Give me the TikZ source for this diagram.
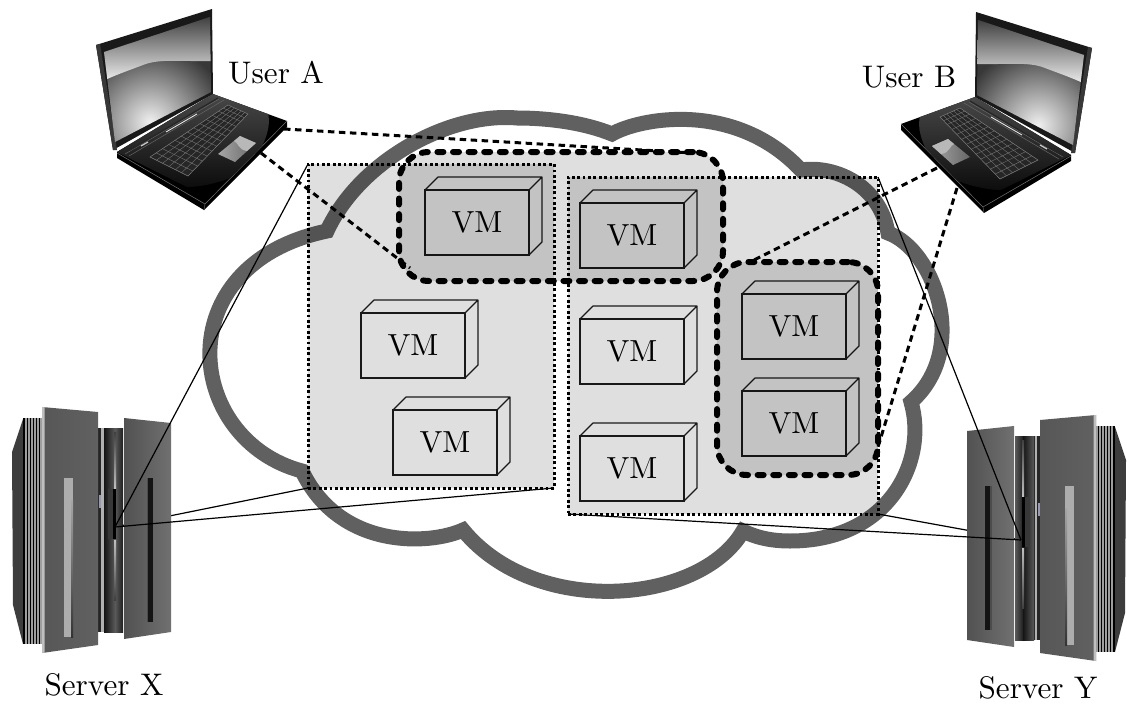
\documentclass[tikz,border=0pt]{standalone}
\usetikzlibrary{calc}
\definecolor{cloudc}{gray}{0.376}
\newcommand{\bigtext}[1]{\scalebox{3.12}{#1}}
\tikzset{
  lbl/.style={inner sep=0pt,anchor=base},
  vmbody/.style={draw=black!90,line width=1.2pt,minimum width=104pt,minimum height=65pt,inner sep=0pt,outer sep=0pt},
  vmedge/.style={draw=black!90,line width=1.2pt,line join=round},
  hostarea/.style={draw=black,fill=black,fill opacity=.125,draw opacity=1,line width=3pt,dash pattern=on 2.8pt off 2.6pt,inner sep=0pt,outer sep=0pt},
  tenant/.style={draw=black,fill=black,fill opacity=.125,draw opacity=1,line width=6pt,line cap=round,dash pattern=on 6pt off 9.6pt,rounded corners=30pt,inner sep=0pt,outer sep=0pt},
  link/.style={draw=black,line width=1.2pt},
  access/.style={draw=black,line width=3pt,dash pattern=on 6.5pt off 4.5pt},
  cloudline/.style={draw=cloudc,line width=15pt,line join=miter,miter limit=10}
}
\newcommand{\vmcube}[3]{%
  \node[vmbody] (#1) at ({#2+52},{#3+32.5}) {\scalebox{3.05}{VM}};
  \draw[vmedge] (#1.north west) -- ++(13,-13) -- ++(104,0) -- ++(0,65) -- (#1.south east)
     (#1.north east) -- ++(13,-13);
}
\newcommand{\laptopart}{%
  % lid
  \fill[black!90] (96,45) -- (212,9) -- (213,94) -- (113,150) -- cycle;
  \fill[black!78] (96,45) -- (100,44) -- (117,150) -- (113,150) -- cycle;
  \begin{scope}
    \clip (104,52) -- (210,17) -- (211,92) -- (115,142) -- cycle;
    \fill[black!78] (90,10) rectangle (220,150);
    \shade[inner color=black!6,outer color=black!78] (150,122) circle (78pt);
    \path[shade,top color=black!82,bottom color=black!8]
      (100,10) -- (215,10) -- (215,61) .. controls (185,62) and (160,58) .. (143,65)
      .. controls (130,70) and (118,74) .. (105,80) -- cycle;
  \end{scope}
  % base
  \fill[black] (117,152) -- (213,94) -- (287,121) -- (287,127) -- (204,210) -- (117,158) -- cycle;
  \draw[black!55,line width=.5pt] (117,153) -- (205,204) -- (287,121);
  \draw[black!65,line width=.5pt] (205,204) -- (204,210);
  \begin{scope}
    \clip (117,152) -- (213,94) -- (287,121) -- (205,203) -- cycle;
    \path[shade,top color=black!72,bottom color=black!95]
      (117,152) -- (213,94) -- (268,113) .. controls (272,130) and (262,150) .. (247,170)
      .. controls (230,180) and (205,187) .. (187,187) -- cycle;
  \end{scope}
  % hinge strip
  \draw[black!60,line width=.5pt] (125,154) -- (219,99) (129,156) -- (224,100);
  \draw[black!85,line width=1.2pt] (130,150) -- (218,98);
  \draw[white!90!black,line width=.9pt] (166,132) -- (197,114);
  \draw[white!80!black,line width=1.2pt] (141,146) -- (148,142);
  % keyboard
  \coordinate (kp) at (150,157); \coordinate (kq) at (228,105);
  \coordinate (kr) at (248,114); \coordinate (ks) at (188,176);
  \fill[black!85] (kp) -- (kq) -- (kr) -- (ks) -- cycle;
  \draw[black!50,line width=.5pt] (kp) -- (kq) -- (kr) -- (ks) -- cycle;
  \foreach \t in {.17,.33,.5,.67,.83}
    \draw[black!55,line width=.4pt] ($(kp)!\t!(ks)$) -- ($(kq)!\t!(kr)$);
  \foreach \t in {.08,.16,.24,.32,.4,.48,.56,.64,.72,.8,.88,.94}
    \draw[black!55,line width=.4pt] ($(kp)!\t!(kq)$) -- ($(ks)!\t!(kr)$);
  % touch pad
  \path[shade,left color=black!35,right color=black!60]
    (218,154) -- (240,136) -- (256,143) -- (235,162) -- cycle;
  \fill[black!28] (240,136) -- (256,143) -- (247,151) .. controls (238,150) and (238,142) .. (234,141) -- cycle;
}
\newcommand{\serverart}{%
  % rear fins
  \fill[black!76] (23,419) -- (12,452) -- (13,605) -- (23,644) -- cycle;
  \fill[black] (23,418) rectangle (42,644);
  \foreach \x in {25,28,31,34,37,40}
    \fill[black!38] (\x,418) rectangle ++(1.6,226);
  % centre column
  \fill[black!85] (98,428) rectangle (123,632);
  \shade[left color=black!92,right color=black!65] (104,428) rectangle (115,632);
  \shade[left color=black!65,right color=black!88] (115,428) rectangle (123,632);
  \fill[black!30] (101,428) rectangle (103.5,632);
  \shade[top color=black!75,bottom color=black!25] (114,432) rectangle (116,488);
  \shade[top color=black!25,bottom color=black!75] (114,540) rectangle (116,600);
  \fill[black!78] (108,489) rectangle (113,539);
  \fill[black] (113,489) rectangle (116,539);
  \fill[blue!25!black!40] (98.5,495) rectangle (100.5,508);
  % large panel
  \shade[left color=black!66,middle color=black!46,right color=black!62] (42,407) -- (98,412) -- (98,645) -- (42,653) -- cycle;
  \fill[black!25] (42,407) -- (44.5,407.2) -- (44.5,652.6) -- (42,653) -- cycle;
  \fill[black!32] (64,478) rectangle (73,637);
  \shade[top color=black!35,bottom color=black!80] (71,500) rectangle (73,637);
  % small panel
  \shade[left color=black!68,middle color=black!48,right color=black!56] (124,418) -- (171,423) -- (171,632) -- (124,639) -- cycle;
  \fill[black!70] (146.5,478) rectangle (153,622);
  \fill[black!92] (148,478) rectangle (153,622);
}
\begin{document}
\begin{tikzpicture}[x=1pt,y=-1pt]
\useasboundingbox (0,0) rectangle (1127,704);
% cloud
\draw[cloudline]
  (327,231) .. controls (360,160) and (450,112) .. (517,118)
  .. controls (550,118) and (585,123) .. (612,134)
  .. controls (640,118) and (735,100) .. (801,170)
  .. controls (835,165) and (880,185) .. (888,233)
  .. controls (935,250) and (970,350) .. (911,402)
  .. controls (928,460) and (890,541) .. (790,541)
  .. controls (770,541) and (755,537) .. (743,531)
  .. controls (700,605) and (535,618) .. (463,530)
  .. controls (430,545) and (340,550) .. (302,471)
  .. controls (185,440) and (165,265) .. (327,231)
  -- cycle;
% areas and anchors
\node[hostarea,minimum width=246pt,minimum height=324pt] (hostx) at (431,326) {};
\node[hostarea,minimum width=310pt,minimum height=337pt] (hosty) at (723,345.5) {};
\coordinate (tipx) at (115,527);
\coordinate (tipy) at (1021,540);
% links hidden behind the servers
\draw[link] (tipx) -- (hostx.south west);
\draw[link] (tipy) -- (hosty.south east);
% servers
\begin{scope}\serverart\end{scope}
\begin{scope}[shift={(1138,8)},xscale=-1]\serverart\end{scope}
% laptops
\begin{scope}\laptopart\end{scope}
\begin{scope}[shift={(1188,3)},xscale=-1]\laptopart\end{scope}
% VMs
\vmcube{vma}{425}{190}
\vmcube{vmb}{580}{203}
\vmcube{vmc}{361}{313}
\vmcube{vmd}{393}{410}
\vmcube{vme}{580}{319}
\vmcube{vmf}{580}{436}
\vmcube{vmg}{742}{294}
\vmcube{vmh}{742}{391}
% tenants
\node[tenant,minimum width=324pt,minimum height=129pt] (groupa) at (561,216.5) {};
\node[tenant,minimum width=161pt,minimum height=213pt] (groupb) at (797.5,368.5) {};
% access paths
\coordinate (ua1) at (284,129); \coordinate (ga1) at (693,153);
\coordinate (ua2) at (261,153); \coordinate (ga2) at (410,268);
\coordinate (ub1) at (937,168); \coordinate (gb1) at (750,262);
\coordinate (ub2) at (957,188); \coordinate (gb2) at (878,447);
\draw[access] (ua1) -- (ga1);
\draw[access] (ua2) -- (ga2);
\draw[access] (ub1) -- (gb1);
\draw[access] (ub2) -- (gb2);
% links
\draw[link] (tipx) -- (hostx.north west);
\draw[link] (tipx) -- (hostx.south east);
\draw[link] (tipy) -- (hosty.north east);
\draw[link] (tipy) -- (hosty.south west);
% labels
\node[lbl] (usera) at (276,83) {\bigtext{User A}};
\node[lbl] (userb) at (909,87) {\bigtext{User B}};
\node[lbl] (serverx) at (104,695) {\bigtext{Server X}};
\node[lbl] (servery) at (1038,698) {\bigtext{Server Y}};
\end{tikzpicture}
\end{document}
